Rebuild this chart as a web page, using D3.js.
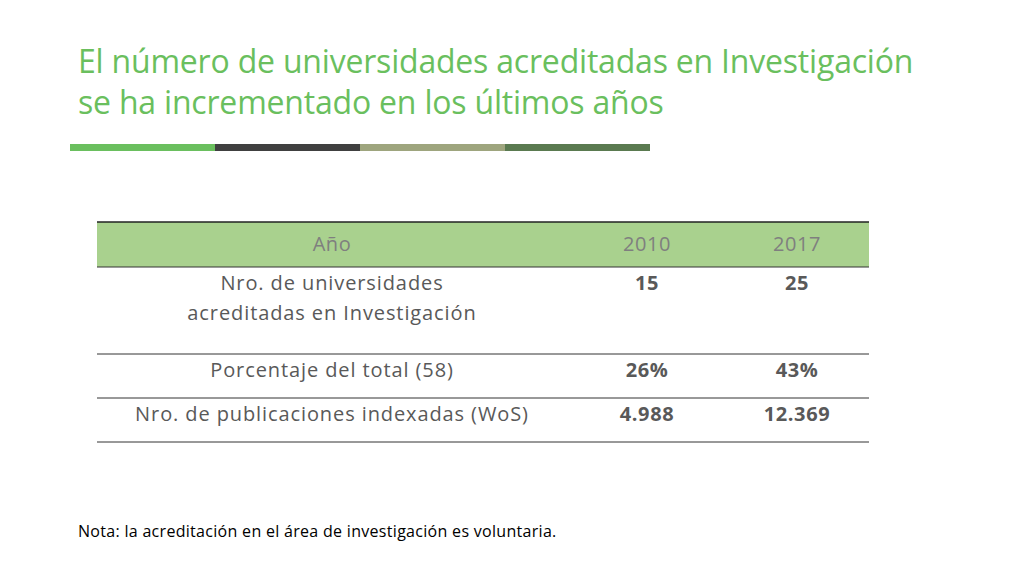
<!DOCTYPE html>
<html><head><meta charset="utf-8">
<script src="https://cdn.jsdelivr.net/npm/d3@7"></script>
<style>body{margin:0;background:#fff}svg{font-family:"Open Sans",sans-serif}</style>
</head><body>
<script>
// table content
var titleLines = ['El número de universidades acreditadas en Investigación', 'se ha incrementado en los últimos años'];
var headers = ['Año', '2010', '2017'];
var rowLabels = [['Nro. de universidades', 'acreditadas en Investigación'], ['Porcentaje del total (58)'], ['Nro. de publicaciones indexadas (WoS)']];
var values2010 = ['15', '26%', '4.988'];
var values2017 = ['25', '43%', '12.369'];
var barColors = ['#6abf5e', '#404040', '#9ea57e', '#5a7a50'];
var note = 'Nota: la acreditación en el área de investigación es voluntaria.';

var svg = d3.select('body').append('svg').attr('width', 1024).attr('height', 576);

svg.selectAll('text.title').data(titleLines).enter().append('text')
  .attr('x', 78).attr('y', (d, i) => 73 + i * 41)
  .attr('font-size', 32).attr('font-weight', 500).attr('fill', '#6abf5e').attr('letter-spacing', -0.2).text(d => d);

var xb = d3.scaleBand().domain(d3.range(barColors.length)).range([70, 650]);
svg.selectAll('rect.bar').data(barColors).enter().append('rect')
  .attr('x', (d, i) => xb(i)).attr('y', 144).attr('width', xb.bandwidth()).attr('height', 7).attr('fill', d => d);

// table geometry
var colX = [332, 647, 797];
var rowEdges = [222, 267, 354, 398, 442];
var left = 97, right = 869;

svg.append('rect').attr('x', left).attr('y', rowEdges[0]).attr('width', right - left)
  .attr('height', rowEdges[1] - rowEdges[0]).attr('fill', '#a9d18e');
svg.selectAll('line.row').data(rowEdges).enter().append('line')
  .attr('x1', left).attr('x2', right).attr('y1', d => d).attr('y2', d => d)
  .attr('stroke', (d, i) => i == 0 ? '#222' : '#333').attr('stroke-width', (d, i) => i == 0 ? 1.5 : 1);

svg.selectAll('text.hdr').data(headers).enter().append('text')
  .attr('x', (d, i) => colX[i]).attr('y', 246).attr('text-anchor', 'middle')
  .attr('dominant-baseline', 'middle').attr('font-size', 20).attr('letter-spacing', 0.6)
  .attr('fill', '#7f7f7f').text(d => d);

rowLabels.forEach(function (lines, r) {
  var top = rowEdges[r + 1];
  lines.forEach(function (l, k) {
    svg.append('text').attr('x', colX[0]).attr('y', top + 23 + k * 30).attr('text-anchor', 'middle')
      .attr('font-size', 20).attr('letter-spacing', 0.9).attr('fill', '#595959').text(l);
  });
  [values2010[r], values2017[r]].forEach(function (v, c) {
    svg.append('text').attr('x', colX[c + 1]).attr('y', top + 23).attr('text-anchor', 'middle')
      .attr('font-size', 20).attr('letter-spacing', 0.6).attr('font-weight', 'bold').attr('fill', '#595959').text(v);
  });
});

svg.append('text').attr('x', 78).attr('y', 537).attr('font-size', 16).attr('letter-spacing', 0.3).attr('fill', '#000').text(note);
</script>
</body></html>
